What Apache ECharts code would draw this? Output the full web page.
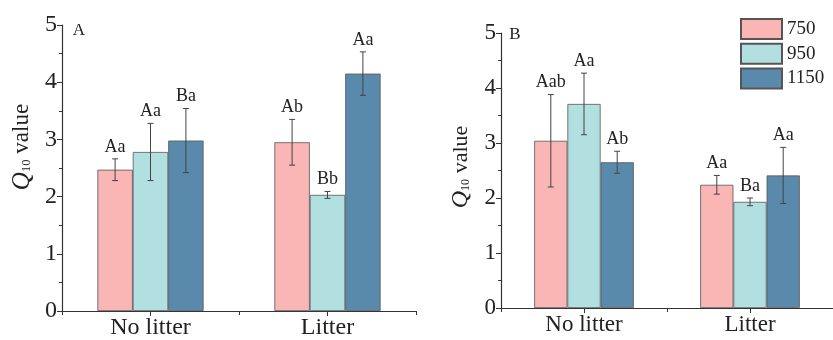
<!DOCTYPE html>
<html>
<head>
    <meta charset="utf-8"/>
    <title>Q10 value</title>
    <script src="https://cdn.jsdelivr.net/npm/echarts@6/dist/echarts.min.js"></script>
    <style>
        html, body { margin: 0; padding: 0; background: #fff; }
        #main { width: 833px; height: 340px; }
    </style>
</head>
<body>
<div id="main"></div>
<script type="text/javascript">
    // categories and groups
    var categories = ['No litter', 'Litter']
    var groupNames = ['750', '950', '1150']
    var yTicks = [0, 1, 2, 3, 4, 5]
    var colors = ['#f9b6b5', '#b2dfdf', '#5a8aab']

    // panel A: means, error bars, letters  (one row per group, one value per category)
    var meanA = [[2.47, 2.95], [2.78, 2.03], [2.98, 4.15]]
    var errA = [[0.19, 0.40], [0.50, 0.06], [0.56, 0.38]]
    var sigA = [['Aa', 'Ab'], ['Aa', 'Bb'], ['Ba', 'Aa']]

    // panel B
    var meanB = [[3.04, 2.24], [3.71, 1.93], [2.65, 2.41]]
    var errB = [[0.84, 0.17], [0.56, 0.07], [0.20, 0.51]]
    var sigB = [['Aab', 'Aa'], ['Aa', 'Ba'], ['Ab', 'Aa']]

    var FONT = 'Liberation Serif'
    var AXIS = '#333'

    function errData(mean, err, sig) {
        var out = []
        for (var s = 0; s < mean.length; s++) {
            for (var i = 0; i < categories.length; i++) {
                out.push({value: [i, mean[s][i], err[s][i], s], sig: sig[s][i]})
            }
        }
        return out
    }

    function makeRender(list) {
        return function (params, api) {
            var i = api.value(0), m = api.value(1), e = api.value(2), s = api.value(3)
            var band = api.size([1, 0])[0]
            var bw = band * 0.6 / 3
            var x = api.coord([i, 0])[0] + (s - 1) * bw
            var top = api.coord([i, m + e])[1]
            var bot = api.coord([i, m - e])[1]
            var st = {stroke: '#444', lineWidth: 1}
            return {
                type: 'group',
                children: [
                    {type: 'line', shape: {x1: x, y1: top, x2: x, y2: bot}, style: st},
                    {type: 'line', shape: {x1: x - 3, y1: top, x2: x + 3, y2: top}, style: st},
                    {type: 'line', shape: {x1: x - 3, y1: bot, x2: x + 3, y2: bot}, style: st},
                    {
                        type: 'text',
                        style: {
                            text: list[params.dataIndex].sig,
                            x: x, y: top - 3,
                            align: 'center', verticalAlign: 'bottom',
                            fontFamily: FONT, fontSize: 18, fill: '#222'
                        }
                    }
                ]
            }
        }
    }

    function xAxes(gridIndex, fs) {
        return [{
            type: 'category', gridIndex: gridIndex, data: categories, position: 'bottom',
            axisLine: {lineStyle: {color: AXIS, width: 1.2}},
            axisTick: {show: true, length: 4, lineStyle: {color: AXIS}},
            axisLabel: {fontFamily: FONT, fontSize: fs, color: '#222', margin: 5}
        }, {
            // second axis only for the ticks under each category
            type: 'category', gridIndex: gridIndex, data: categories, position: 'bottom',
            axisLine: {show: false},
            axisTick: {show: true, alignWithLabel: true, length: 5, lineStyle: {color: AXIS}},
            axisLabel: {show: false}
        }]
    }

    function yAxis(gridIndex, fs) {
        return {
            type: 'value', gridIndex: gridIndex,
            min: yTicks[0], max: yTicks[yTicks.length - 1], interval: 1,
            splitLine: {show: false},
            axisLine: {show: true, lineStyle: {color: AXIS, width: 1.2}},
            axisTick: {show: true, length: 5, lineStyle: {color: AXIS}},
            minorTick: {show: true, splitNumber: 2, length: 3, lineStyle: {color: AXIS}},
            axisLabel: {fontFamily: FONT, fontSize: fs, color: '#222', margin: 5}
        }
    }

    function bars(mean, xi, yi) {
        return groupNames.map(function (name, s) {
            return {
                name: name, type: 'bar', xAxisIndex: xi, yAxisIndex: yi,
                data: mean[s], barGap: '0%', barCategoryGap: '40%',
                itemStyle: {color: colors[s], borderColor: '#555', borderWidth: 0.8},
                emphasis: {disabled: true}
            }
        })
    }

    function yTitle(x, y, fs) {
        return {
            type: 'text', x: x, y: y, rotation: Math.PI / 2,
            style: {
                text: '{q|Q}{sub|10}{v| value}',
                align: 'center', verticalAlign: 'middle',
                fill: '#222',
                rich: {
                    q: {fontFamily: FONT, fontStyle: 'italic', fontSize: fs + 2, fill: '#222'},
                    sub: {fontFamily: FONT, fontSize: fs * 0.55, fill: '#222', padding: [10, 0, 0, 0]},
                    v: {fontFamily: FONT, fontSize: fs, fill: '#222'}
                }
            }
        }
    }

    var listA = errData(meanA, errA, sigA)
    var listB = errData(meanB, errB, sigB)

    var chart = echarts.init(document.getElementById('main'), null, {renderer: 'canvas'})
    chart.setOption({
        animation: false,
        backgroundColor: '#fff',
        grid: [
            {left: 62, top: 25, width: 354, height: 286},
            {left: 501, top: 33, width: 342, height: 275}
        ],
        xAxis: xAxes(0, 24).concat(xAxes(1, 23)),
        yAxis: [yAxis(0, 24), yAxis(1, 23)],
        legend: {
            orient: 'vertical', left: 735, top: 13,
            itemWidth: 41, itemHeight: 20, itemGap: 2.7,
            icon: 'rect',
            data: groupNames,
            textStyle: {fontFamily: FONT, fontSize: 19, color: '#222'}
        },
        graphic: [
            yTitle(22, 147, 23),
            yTitle(461, 167, 22),
            {type: 'text', x: 79, y: 31, style: {text: 'A', fontFamily: FONT, fontSize: 17, fill: '#222', align: 'center', verticalAlign: 'middle'}},
            {type: 'text', x: 515, y: 35, style: {text: 'B', fontFamily: FONT, fontSize: 17, fill: '#222', align: 'center', verticalAlign: 'middle'}}
        ],
        series: bars(meanA, 0, 0).concat(bars(meanB, 2, 1)).concat([
            {
                type: 'custom', xAxisIndex: 0, yAxisIndex: 0, z: 5,
                renderItem: makeRender(listA), data: listA,
                encode: {x: 0, y: 1}
            },
            {
                type: 'custom', xAxisIndex: 2, yAxisIndex: 1, z: 5,
                renderItem: makeRender(listB), data: listB,
                encode: {x: 0, y: 1}
            }
        ])
    })
</script>
</body>
</html>
